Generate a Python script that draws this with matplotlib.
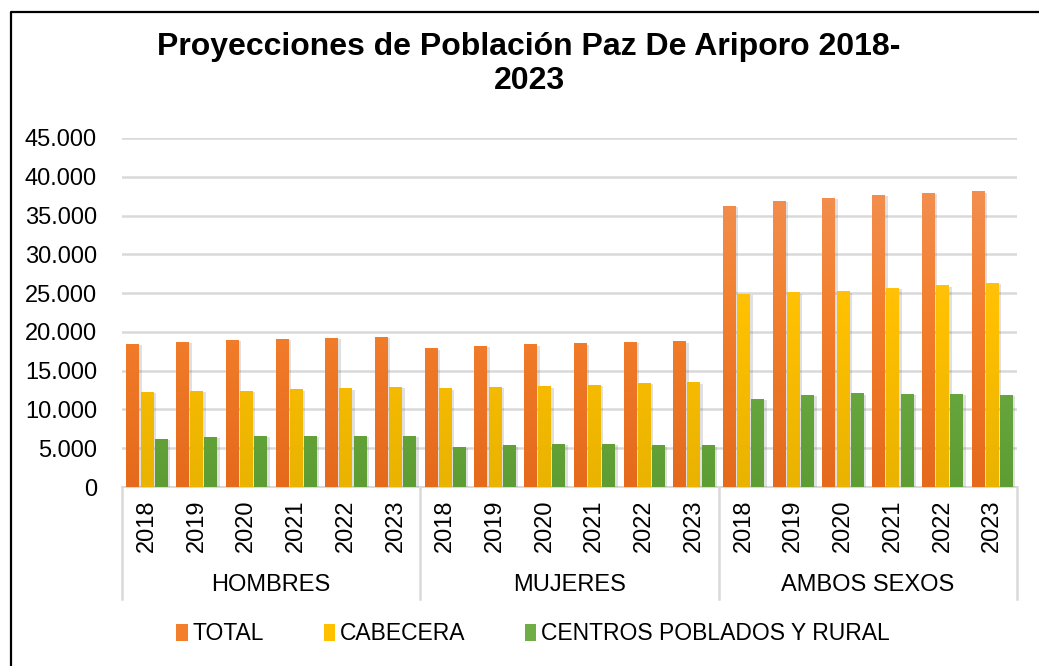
import numpy as np
import matplotlib
matplotlib.use('Agg')
import matplotlib.pyplot as plt
import matplotlib.patheffects as pe
from matplotlib.colors import LinearSegmentedColormap
from matplotlib.patches import Patch
from matplotlib.lines import Line2D
from matplotlib.ticker import FuncFormatter

plt.rcParams['font.family'] = ['Liberation Sans', 'DejaVu Sans']

years = ['2018', '2019', '2020', '2021', '2022', '2023']
groups = ['HOMBRES', 'MUJERES', 'AMBOS SEXOS']
series = ['TOTAL', 'CABECERA', 'CENTROS POBLADOS Y RURAL']

total = [18450, 18700, 18950, 19100, 19200, 19350,
         17900, 18200, 18400, 18550, 18700, 18800,
         36250, 36900, 37300, 37650, 37900, 38150]
cabecera = [12250, 12400, 12400, 12600, 12750, 12900,
            12750, 12900, 13000, 13150, 13400, 13500,
            24900, 25100, 25250, 25650, 26000, 26300]
rural = [6200, 6450, 6600, 6600, 6600, 6600,
         5150, 5400, 5550, 5550, 5400, 5400,
         11350, 11850, 12100, 12000, 12000, 11850]

# (top colour, middle colour, bottom colour) for the Excel-like gradients
grads = [('#f2955f', '#f37f2c', '#e56a1c'),
         ('#ffc843', '#ffc000', '#e9b300'),
         ('#86b868', '#70ad47', '#5d9d33')]

fig = plt.figure(figsize=(10.39, 6.66), dpi=100)
ax = fig.add_axes([122 / 1039, 1 - 487 / 666, (1017 - 122) / 1039, (487 - 138) / 666])

n = len(total)
x = np.arange(n)
w = 0.255
offs = [-0.285, 0, 0.285]

for vals, off, g in zip([total, cabecera, rural], offs, grads):
    cmap = LinearSegmentedColormap.from_list('g', [g[2], g[1], g[0]])
    bars = ax.bar(x + off, vals, width=w, color=g[1], zorder=3,
                  path_effects=[pe.SimplePatchShadow(offset=(2, -1), shadow_rgbFace='#666666', alpha=0.2),
                                pe.Normal()])
    for b in bars:
        x0 = b.get_x()
        im = ax.imshow(np.linspace(0, 1, 100).reshape(-1, 1), cmap=cmap, aspect='auto',
                       origin='lower', extent=[x0, x0 + b.get_width(), 0, 45000], zorder=3.5,
                       interpolation='bilinear')
        im.set_clip_path(b)

ax.set_xlim(-0.5, n - 0.5)
ax.set_ylim(0, 45000)
ax.set_yticks(np.arange(0, 45001, 5000))
ax.yaxis.set_major_formatter(FuncFormatter(lambda v, p: f'{int(v):,}'.replace(',', '.')))
ax.tick_params(axis='y', length=0, labelsize=17, pad=18, colors='black')
ax.set_xticks([])
ax.grid(axis='y', color='#d9d9d9', linewidth=1.8, zorder=0)
for s in ['left', 'right', 'top']:
    ax.spines[s].set_visible(False)
ax.spines['bottom'].set_color('#d9d9d9')
ax.spines['bottom'].set_linewidth(1.5)

# hierarchical category axis
tr = ax.get_xaxis_transform()
for i in range(n):
    ax.text(x[i], -0.037, years[i % 6], rotation=90, ha='center', va='top',
            fontsize=17, transform=tr)
for k, gname in enumerate(groups):
    ax.text(k * 6 + 2.5, -0.281, gname, ha='center', va='center', fontsize=17, transform=tr)
for k in range(4):
    ax.add_line(Line2D([k * 6 - 0.5] * 2, [0, -0.322], transform=tr, color='#d9d9d9',
                       linewidth=1.8, clip_on=False))

fig.text(529 / 1039, 1 - 64 / 666, 'Proyecciones de Población Paz De Ariporo 2018-\n2023',
         ha='center', va='center', fontsize=23, fontweight='bold', linespacing=1.2)

handles = [Patch(facecolor=g[1], edgecolor='none') for g in grads]
fig.legend(handles, series, loc='center', bbox_to_anchor=(533 / 1039, 1 - 634 / 666), ncol=3,
           frameon=False, fontsize=16.5, handlelength=0.5, handleheight=0.75,
           handletextpad=0.2, columnspacing=2.6)

# outer chart border (only left and top visible in the crop)
fig.add_artist(Line2D([10.5 / 1039, 10.5 / 1039, 1.0], [0.0, 1 - 12 / 666, 1 - 12 / 666],
                      transform=fig.transFigure, color='black', linewidth=1.6))

fig.savefig('out.png', dpi=100)
